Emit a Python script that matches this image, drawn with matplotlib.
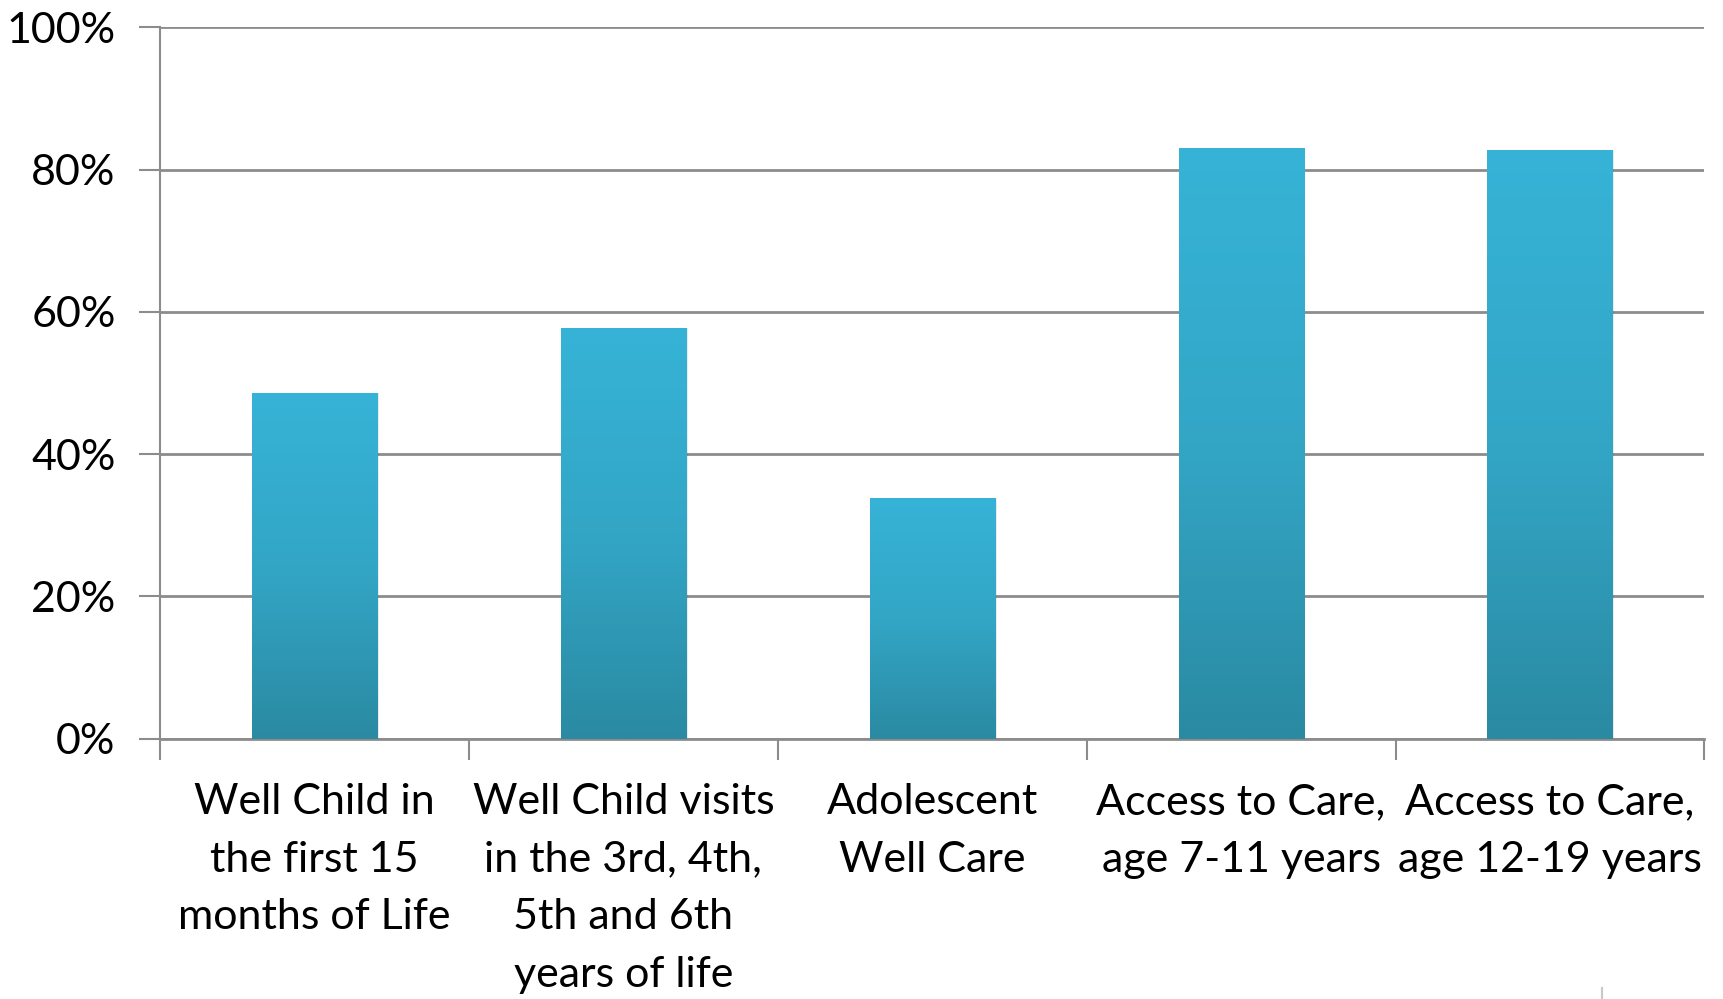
import matplotlib
matplotlib.use("Agg")
import matplotlib.pyplot as plt
import numpy as np
from matplotlib.colors import LinearSegmentedColormap
from matplotlib.lines import Line2D

categories = [
    "Well Child in\nthe first 15\nmonths of Life",
    "Well Child visits\nin the 3rd, 4th,\n5th and 6th\nyears of life",
    "Adolescent\nWell Care",
    "Access to Care,\nage 7-11 years",
    "Access to Care,\nage 12-19 years",
]
values = [48.6, 57.8, 33.9, 83.1, 82.7]
yticks = [0, 20, 40, 60, 80, 100]
ytick_labels = ["0%", "20%", "40%", "60%", "80%", "100%"]

plt.rcParams['font.family'] = ['Lato', 'DejaVu Sans']

fig = plt.figure(figsize=(17.23, 9.99), dpi=100)
ax = fig.add_axes([0.0929, 0.2607, 0.8963, 0.7118])

x = np.arange(len(categories))
width = 0.405
bars = ax.bar(x, values, width=width, color="none", zorder=3)

cmap = LinearSegmentedColormap.from_list("g", ["#2A8AA2", "#33A6C6", "#36B3D7"])
grad = np.linspace(0, 1, 256).reshape(-1, 1)
for b in bars:
    x0, y0 = b.get_x(), b.get_y()
    w, h = b.get_width(), b.get_height()
    # subtle shadow
    shadow = plt.Rectangle((x0 + 0.006, y0), w, h, facecolor="#000000", alpha=0.08,
                           edgecolor="none", zorder=2.5)
    ax.add_patch(shadow)
    im = ax.imshow(grad, extent=[x0, x0 + w, y0, y0 + h], origin="lower",
                   cmap=cmap, aspect="auto", zorder=3)
    im.set_clip_path(b)

ax.set_xlim(-0.5, len(categories) - 0.5)
ax.set_ylim(0, 100)

ax.set_yticks(yticks)
ax.set_yticklabels(ytick_labels)
ax.yaxis.grid(True, color="#8C8C8C", linewidth=2, zorder=1)
ax.set_axisbelow(True)

ax.set_xticks(x)
ax.set_xticklabels(categories, linespacing=1.63)
ax.tick_params(axis="x", which="major", length=0, pad=32, labelsize=31)
ax.set_xticks(np.arange(-0.5, len(categories), 1.0), minor=True)
ax.tick_params(axis="x", which="minor", length=15, width=1.5, color="#8C8C8C", direction="out")
ax.tick_params(axis="y", length=15, width=1.5, color="#8C8C8C", pad=17, labelsize=31)

for s in ["top", "right"]:
    ax.spines[s].set_visible(False)
ax.spines["left"].set_color("#8C8C8C")
ax.spines["left"].set_linewidth(1.5)
ax.spines["bottom"].set_color("#8C8C8C")
ax.spines["bottom"].set_linewidth(2)

# small stray mark near bottom right
fig.add_artist(Line2D([1602 / 1723, 1602 / 1723], [0, 11 / 999], color="#C8C8C8", linewidth=1.5))

fig.savefig("out.png", dpi=100, facecolor="white")
